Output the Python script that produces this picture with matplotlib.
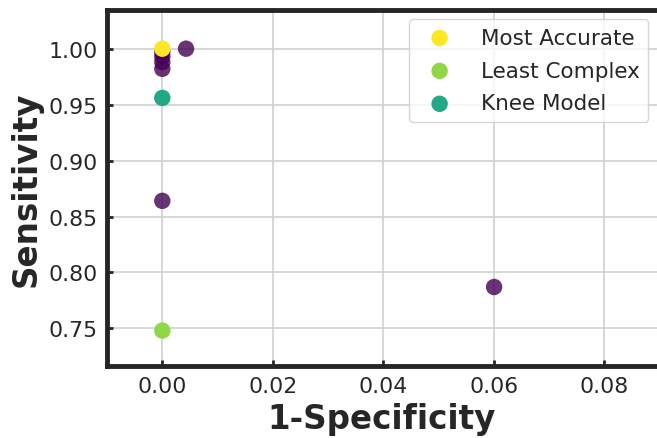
import numpy as np
from matplotlib import pyplot as plt

# all evaluated models (1-specificity, sensitivity)
fpr_all = [0.0, 0.0, 0.0, 0.0, 0.0043, 0.0, 0.0601]
tpr_all = [0.993, 0.988, 0.982, 0.997, 1.000, 0.864, 0.787]

# highlighted models
labels = ["Most Accurate", "Least Complex", "Knee Model"]
fpr_sel = [0.0, 0.0, 0.0]
tpr_sel = [1.000, 0.748, 0.956]
colors_sel = ["#fde725", "#8fd744", "#22a884"]

x_ticks = [0.00, 0.02, 0.04, 0.06, 0.08]
y_ticks = [0.75, 0.80, 0.85, 0.90, 0.95, 1.00]

fig = plt.figure(figsize=(6.57, 4.39), dpi=100)
ax = fig.add_axes([0.163, 0.163, 0.837, 0.813])

ax.scatter(fpr_all, tpr_all, s=140, color="#440154", alpha=0.8,
           edgecolors="none", zorder=3)
for x, y, c, lab in zip(fpr_sel, tpr_sel, colors_sel, labels):
    ax.scatter([x], [y], s=140, color=c, edgecolors="none", zorder=4, label=lab)

ax.set_xlim(-0.01, 0.0896)
ax.set_ylim(0.716, 1.035)
ax.set_xticks(x_ticks)
ax.set_yticks(y_ticks)
ax.set_xticklabels([f"{v:.2f}" for v in x_ticks])
ax.set_yticklabels([f"{v:.2f}" for v in y_ticks])

ax.grid(True, color="#d0d0d0", linewidth=1.2, zorder=0)
ax.set_axisbelow(True)
for side in ["left", "bottom", "top"]:
    ax.spines[side].set_linewidth(3.5)
    ax.spines[side].set_color("#262626")
ax.spines["right"].set_visible(False)

ax.tick_params(direction="in", length=4, width=2, color="#262626",
               labelsize=15.8, labelcolor="#262626", pad=7)

ax.set_xlabel("1-Specificity", fontsize=23.5, fontweight="bold", color="#262626")
ax.set_ylabel("Sensitivity", fontsize=23.5, fontweight="bold", color="#262626")

leg = ax.legend(loc="upper right", fontsize=15.5, handletextpad=0.9,
                borderpad=0.4, labelspacing=0.6, framealpha=0.8,
                edgecolor="#cccccc", borderaxespad=0,
                bbox_to_anchor=(648 / 657, 1 - 20 / 439),
                bbox_transform=fig.transFigure)
for t in leg.get_texts():
    t.set_color("#262626")

fig.savefig("out.png", dpi=100)
